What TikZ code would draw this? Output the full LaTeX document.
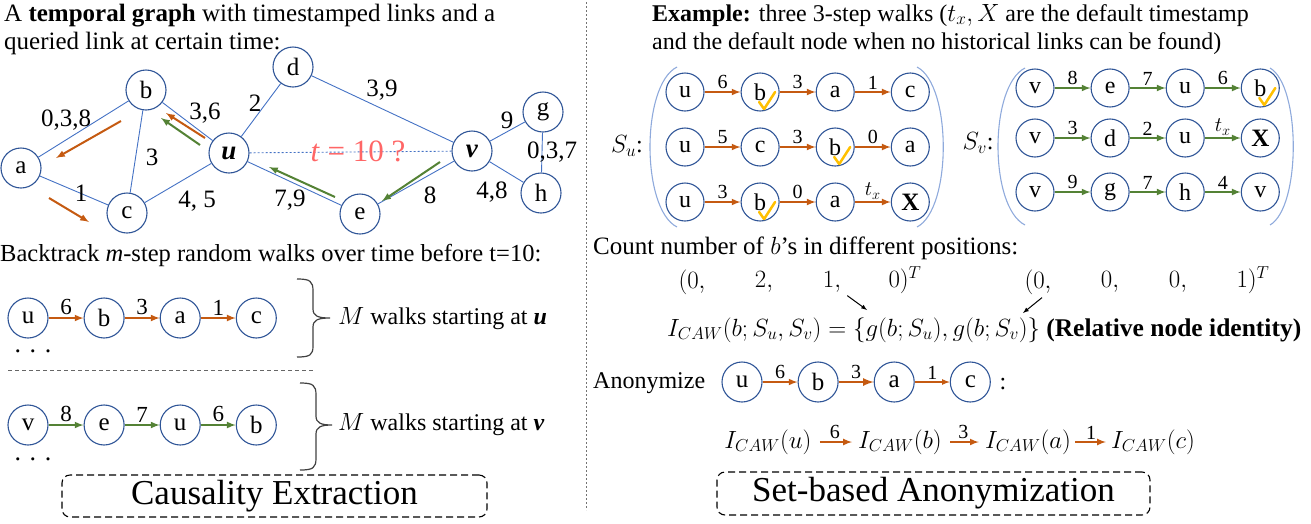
\documentclass[tikz,border=0pt]{standalone}
\usepackage{fontspec}
\setmainfont{Liberation Serif}
\usepackage{color}
\usepackage{tikz}
\usetikzlibrary{positioning}

\definecolor{nodeblue}{HTML}{2F5597}
\definecolor{edgeblue}{HTML}{4472C4}
\definecolor{parenblue}{HTML}{8FAADC}
\definecolor{walkorange}{HTML}{C55A11}
\definecolor{walkgreen}{HTML}{548235}
\definecolor{tickyellow}{HTML}{FFC000}
\definecolor{queryred}{HTML}{FF6666}
\newcommand{\fsz}[1]{\fontsize{#1}{#1}\selectfont}

\begin{document}
\begin{tikzpicture}[x=1pt, y=-1pt, >=latex,
  gnode/.style={circle, draw=nodeblue, line width=1.1pt, minimum size=40pt, inner sep=0pt, font=\fsz{25}},
  snode/.style={gnode, minimum size=38pt, font=\fsz{24}},
  txt/.style={inner sep=0pt, font=\fsz{24}},
  wlbl/.style={above, inner sep=2pt, font=\fsz{23}},
  slbl/.style={above, inner sep=2pt, font=\fsz{20}},
  glink/.style={draw=edgeblue, line width=0.9pt},
  oarr/.style={->, draw=walkorange, line width=2pt},
  garr/.style={->, draw=walkgreen, line width=2pt},
  chk/.style={draw=tickyellow, line width=2.5pt, line cap=round, line join=round},
  paren/.style={draw=parenblue, line width=1.1pt},
  brc/.style={draw=black!75, line width=1.2pt},
  parr/.style={->, line width=1pt},
  titlebox/.style={draw, dash pattern=on 7pt off 4pt, rounded corners=8pt, line width=1.1pt, inner sep=0pt, font=\fsz{35}}]
\useasboundingbox (0,0) rectangle (1311,523);

% ---- left half: temporal graph
\node[txt, anchor=north west, align=left, font=\fontsize{25}{28}\selectfont] (headL) at (4,4)
  {A \textbf{temporal graph} with timestamped links and a\\queried link at certain time:};

\node[gnode] (a) at (21,168) {a};
\node[gnode] (b) at (146,90) {b};
\node[gnode] (c) at (127,213) {c};
\node[gnode] (d) at (293,67) {d};
\node[gnode, font=\fsz{27}] (u) at (229,153) {\textbf{\textit{u}}};
\node[gnode, font=\fsz{27}] (v) at (472,151) {\textbf{\textit{v}}};
\node[gnode] (e) at (360,214) {e};
\node[gnode] (g) at (543,112) {g};
\node[gnode] (h) at (541,193) {h};

\draw[glink] (a) -- (b);
\draw[glink] (a) -- (c);
\draw[glink] (b) -- (c);
\draw[glink] (b) -- (u);
\draw[glink] (c) -- (u);
\draw[glink] (u) -- (d);
\draw[glink] (d) -- (v);
\draw[glink] (u) -- (e);
\draw[glink] (e) -- (v);
\draw[glink] (v) -- (g);
\draw[glink] (v) -- (h);
\draw[glink] (g) -- (h);
\draw[glink, dash pattern=on 2pt off 2pt] (u) -- (v);

\node[txt, font=\fsz{25}] (l-ab) at (66,120) {0,3,8};
\node[txt, font=\fsz{25}] (l-bu) at (205,113) {3,6};
\node[txt, font=\fsz{25}] (l-ud) at (255,103) {2};
\node[txt, font=\fsz{25}] (l-bc) at (152,157) {3};
\node[txt, font=\fsz{25}] (l-ac) at (81,193) {1};
\node[txt, font=\fsz{25}] (l-cu) at (197,201) {4, 5};
\node[txt, font=\fsz{25}] (l-ue) at (290,200) {7,9};
\node[txt, font=\fsz{25}] (l-dv) at (382,90) {3,9};
\node[txt, font=\fsz{25}] (l-vg) at (507,120) {9};
\node[txt, font=\fsz{25}] (l-gh) at (552,152) {0,3,7};
\node[txt, font=\fsz{25}] (l-vh) at (492,192) {4,8};
\node[txt, font=\fsz{25}] (l-ev) at (430,195) {8};
\node[txt, font=\fsz{31}, text=queryred] (query) at (358,151) {\textit{t} = 10 ?};

% walk directions along the links
\coordinate (ba1) at (121,121); \coordinate (ba2) at (56,158);
\coordinate (ac1) at (49,198);  \coordinate (ac2) at (89,222);
\coordinate (ub1) at (205,138); \coordinate (ub2) at (166,113);
\coordinate (ub3) at (200,145); \coordinate (ub4) at (161,118);
\coordinate (ve1) at (440,162); \coordinate (ve2) at (382,201);
\coordinate (eu1) at (335,197); \coordinate (eu2) at (269,167);
\draw[oarr] (ba1) -- (ba2);
\draw[oarr] (ac1) -- (ac2);
\draw[oarr] (ub1) -- (ub2);
\draw[garr] (ub3) -- (ub4);
\draw[garr] (ve1) -- (ve2);
\draw[garr] (eu1) -- (eu2);

% ---- left half: walks
\node[txt, anchor=west, font=\fsz{24.5}] (backtrack) at (0,255) {Backtrack \textit{m}-step random walks over time before t=10:};

\node[gnode] (w1u) at (28,318) {u};
\node[gnode, right=35pt of w1u] (w1b) {b};
\node[gnode, right=35pt of w1b] (w1a) {a};
\node[gnode, right=35pt of w1a] (w1c) {c};
\draw[oarr] (w1u) -- node[wlbl] {6} (w1b);
\draw[oarr] (w1b) -- node[wlbl] {3} (w1a);
\draw[oarr] (w1a) -- node[wlbl] {1} (w1c);
\node[txt, font=\fsz{26}] (dots1) at (33,351) {.\,\,.\,\,.};

\draw[brc] (297,279) .. controls (310,279) and (313,281) .. (313,291) -- (313,309)
  .. controls (313,316) and (318,318) .. (330,318) .. controls (318,318) and (313,320) .. (313,327)
  -- (313,346) .. controls (313,355) and (310,357) .. (297,357);
\node[txt, anchor=west] (walksu) at (338,319) {$M$ walks starting at \textbf{\textit{u}}};

\draw[black!60, line width=1pt, dash pattern=on 4pt off 3pt] (8,370) -- (315,370);

\node[gnode] (w2v) at (28,425) {v};
\node[gnode, right=35pt of w2v] (w2e) {e};
\node[gnode, right=35pt of w2e] (w2u) {u};
\node[gnode, right=35pt of w2u] (w2b) {b};
\draw[garr] (w2v) -- node[wlbl] {8} (w2e);
\draw[garr] (w2e) -- node[wlbl] {7} (w2u);
\draw[garr] (w2u) -- node[wlbl] {6} (w2b);
\node[txt, font=\fsz{26}] (dots2) at (33,459) {.\,\,.\,\,.};

\draw[brc] (300,383) .. controls (313,383) and (316,385) .. (316,395) -- (316,416)
  .. controls (316,423) and (321,425) .. (332,425) .. controls (321,425) and (316,427) .. (316,434)
  -- (316,458) .. controls (316,468) and (313,470) .. (300,470);
\node[txt, anchor=west] (walksv) at (338,425) {$M$ walks starting at \textbf{\textit{v}}};

\node[titlebox, minimum width=425pt, minimum height=42pt] (causal) at (274.5,496) {Causality Extraction};

\draw[black!55, line width=1pt, dash pattern=on 2pt off 2pt] (586,2) -- (586,510);

% ---- right half: walk sets
\node[txt, anchor=north west, align=left, font=\fontsize{24}{28}\selectfont] (headR) at (652,4)
  {\textbf{Example:} three 3-step walks ($t_x, X$ are the default timestamp\\and the default node when no historical links can be found)};

\node[txt] (su) at (627,146) {$S_u$:};
\draw[paren] (677,67) .. controls (641,85) and (641,209) .. (677,227);
\draw[paren] (917,67) .. controls (952,85) and (952,209) .. (917,227);

\node[snode] (su1u) at (685,92) {u};
\node[snode, right=36pt of su1u] (su1b) {b};
\node[snode, right=36pt of su1b] (su1a) {a};
\node[snode, right=36pt of su1a] (su1c) {c};
\draw[oarr] (su1u) -- node[slbl] {6} (su1b);
\draw[oarr] (su1b) -- node[slbl] {3} (su1a);
\draw[oarr] (su1a) -- node[slbl] {1} (su1c);

\node[snode] (su2u) at (685,147) {u};
\node[snode, right=36pt of su2u] (su2c) {c};
\node[snode, right=36pt of su2c] (su2b) {b};
\node[snode, right=36pt of su2b] (su2a) {a};
\draw[oarr] (su2u) -- node[slbl] {5} (su2c);
\draw[oarr] (su2c) -- node[slbl] {3} (su2b);
\draw[oarr] (su2b) -- node[slbl] {0} (su2a);

\node[snode] (su3u) at (685,202) {u};
\node[snode, right=36pt of su3u] (su3b) {b};
\node[snode, right=36pt of su3b] (su3a) {a};
\node[snode, right=36pt of su3a, font=\fsz{25}] (su3x) {\textbf{X}};
\draw[oarr] (su3u) -- node[slbl] {3} (su3b);
\draw[oarr] (su3b) -- node[slbl] {0} (su3a);
\draw[oarr] (su3a) -- node[slbl] {$t_x$} (su3x);

\draw[chk] ([shift={(-1,10)}]su1b.center) -- ++(5,7) -- ++(11,-17);
\draw[chk] ([shift={(-1,10)}]su2b.center) -- ++(5,7) -- ++(11,-17);
\draw[chk] ([shift={(-1,10)}]su3b.center) -- ++(5,7) -- ++(11,-17);

\node[txt] (sv) at (978,143) {$S_v$:};
\draw[paren] (1025,68) .. controls (989,86) and (989,207) .. (1025,225);
\draw[paren] (1270,68) .. controls (1301,86) and (1301,207) .. (1270,225);

\node[snode] (sv1v) at (1035,88) {v};
\node[snode, right=36pt of sv1v] (sv1e) {e};
\node[snode, right=36pt of sv1e] (sv1u) {u};
\node[snode, right=36pt of sv1u] (sv1b) {b};
\draw[garr] (sv1v) -- node[slbl] {8} (sv1e);
\draw[garr] (sv1e) -- node[slbl] {7} (sv1u);
\draw[garr] (sv1u) -- node[slbl] {6} (sv1b);
\draw[chk] ([shift={(-1,10)}]sv1b.center) -- ++(5,7) -- ++(11,-17);

\node[snode] (sv2v) at (1035,138) {v};
\node[snode, right=36pt of sv2v] (sv2d) {d};
\node[snode, right=36pt of sv2d] (sv2u) {u};
\node[snode, right=36pt of sv2u, font=\fsz{25}] (sv2x) {\textbf{X}};
\draw[garr] (sv2v) -- node[slbl] {3} (sv2d);
\draw[garr] (sv2d) -- node[slbl] {2} (sv2u);
\draw[garr] (sv2u) -- node[slbl] {$t_x$} (sv2x);

\node[snode] (sv3v) at (1035,192) {v};
\node[snode, right=36pt of sv3v] (sv3g) {g};
\node[snode, right=36pt of sv3g] (sv3h) {h};
\node[snode, right=36pt of sv3h] (sv3w) {v};
\draw[garr] (sv3v) -- node[slbl] {9} (sv3g);
\draw[garr] (sv3g) -- node[slbl] {7} (sv3h);
\draw[garr] (sv3h) -- node[slbl] {4} (sv3w);

% ---- right half: counting and anonymizing
\node[txt, anchor=west, font=\fsz{25}] (count) at (593,248) {Count number of $b$’s in different positions:};

\node[txt] (vu1) at (692,282) {$(0,$};
\node[txt] (vu2) at (764,282) {$2,$};
\node[txt] (vu3) at (832,282) {$1,$};
\node[txt] (vu4) at (905,280) {$0)^T$};
\node[txt] (vv1) at (1038,282) {$(0,$};
\node[txt] (vv2) at (1110,282) {$0,$};
\node[txt] (vv3) at (1178,282) {$0,$};
\node[txt] (vv4) at (1253,280) {$1)^T$};

\coordinate (gin1) at (867,310);
\coordinate (gin2) at (1023,313);
\draw[parr] ([shift={(6,3)}]vu3.south east) -- (gin1);
\draw[parr] ([shift={(4,3)}]vv1.south) -- (gin2);

\node[txt, anchor=west, font=\fsz{24.5}] (icaw) at (667,330)
  {$I_{CAW}(b; S_u, S_v) = \{g(b; S_u), g(b; S_v)\}$ \fontsize{25.5}{25.5}\selectfont\textbf{(Relative node identity)}};

\node[txt, anchor=west] (anon) at (593,383) {Anonymize};
\node[gnode] (an1) at (742,382) {u};
\node[gnode, right=35pt of an1] (an2) {b};
\node[gnode, right=35pt of an2] (an3) {a};
\node[gnode, right=35pt of an3] (an4) {c};
\draw[oarr] (an1) -- node[slbl] {6} (an2);
\draw[oarr, line width=2.6pt] (an2) -- node[slbl] {3} (an3);
\draw[oarr, line width=1.6pt] (an3) -- node[slbl] {1} (an4);
\node[txt] (colon) at (1003,384) {:};

\node[txt] (ic-u) at (768,442) {$I_{CAW}(u)$};
\node[txt] (ic-b) at (900,442) {$I_{CAW}(b)$};
\node[txt] (ic-a) at (1028,442) {$I_{CAW}(a)$};
\node[txt] (ic-c) at (1153,442) {$I_{CAW}(c)$};
\draw[oarr, shorten <=8pt, shorten >=6pt] (ic-u) -- node[slbl] {6} (ic-b);
\draw[oarr, shorten <=8pt, shorten >=6pt] (ic-b) -- node[slbl] {3} (ic-a);
\draw[oarr, shorten <=4pt, shorten >=5pt] (ic-a) -- node[slbl] {1} (ic-c);

\node[titlebox, minimum width=433pt, minimum height=43pt] (anonbox) at (933.5,493.5) {Set-based Anonymization};

\end{tikzpicture}
\end{document}
